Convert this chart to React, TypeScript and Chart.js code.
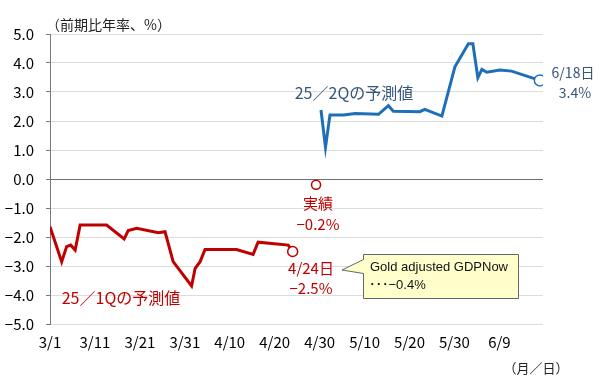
import { useEffect, useRef } from 'react';
import { Chart, registerables } from 'chart.js';

Chart.register(...registerables);

// x positions are day offsets from 3/1
const tickDays = [0, 10, 20, 30, 40, 50, 60, 70, 80, 90, 100];
const tickLabels = ['3/1', '3/11', '3/21', '3/31', '4/10', '4/20', '4/30', '5/10', '5/20', '5/30', '6/9'];

const q1Days = [0, 2.6, 3.7, 4.6, 5.6, 6.7, 12.6, 16.5, 17.4, 19.3, 24.1, 25.6, 27.4, 31.5, 32.3, 33.4, 34.5, 41.5, 45.2, 46.3, 53.0, 54];
const q1Values = [-1.65, -2.85, -2.33, -2.28, -2.45, -1.59, -1.59, -2.07, -1.78, -1.70, -1.85, -1.82, -2.85, -3.69, -3.08, -2.85, -2.43, -2.43, -2.60, -2.18, -2.28, -2.5];

const q2Days = [60.3, 61.3, 62.3, 65.3, 67.9, 73.1, 75.3, 76.4, 82.3, 83.4, 87.2, 90.1, 93.1, 94.1, 95.2, 96.1, 97.2, 100.1, 102.7, 109];
const q2Values = [2.38, 1.09, 2.21, 2.21, 2.26, 2.23, 2.53, 2.34, 2.32, 2.40, 2.17, 3.87, 4.66, 4.66, 3.49, 3.78, 3.68, 3.76, 3.72, 3.4];

const actualDays = [59.2];
const actualValues = [-0.2];

const RED = '#C00000';
const BLUE = '#1F6FB8';
const BLUE_TEXT = '#35557A';
const JP = '"Noto Sans CJK JP", "Liberation Sans", sans-serif';
const MINUS = '\u2212';

const lastIdx = (a: number[]) => a.length - 1;

const annotPlugin = {
  id: 'annot',
  afterDraw(chart: any) {
    const { ctx } = chart;
    ctx.save();
    const text = (t: string, px: number, py: number, color: string, size: number, align: CanvasTextAlign = 'center', family = JP) => {
      ctx.font = `normal ${size}px ${family}`;
      ctx.fillStyle = color;
      ctx.textAlign = align;
      ctx.textBaseline = 'middle';
      ctx.fillText(t, px, py);
    };
    text('（前期比年率、%）', 46, 25, '#222', 14, 'left');
    text('（月／日）', 536, 368, '#222', 13);

    text('25／1Qの予測値', 121, 298, RED, 16);
    text('25／2Qの予測値', 354, 93, BLUE_TEXT, 16);

    text('6/18日', 573, 73, BLUE_TEXT, 14);
    text('3.4%', 575, 93, BLUE_TEXT, 14);

    text('実績', 318, 203, RED, 15);
    text(MINUS + '0.2%', 318, 224, RED, 15);
    text('4/24日', 311, 268, RED, 15);
    text(MINUS + '2.5%', 311, 288, RED, 15);

    // callout
    ctx.beginPath();
    ctx.moveTo(363.5, 254.5);
    ctx.lineTo(518.5, 254.5);
    ctx.lineTo(518.5, 298.5);
    ctx.lineTo(363.5, 298.5);
    ctx.lineTo(363.5, 273.5);
    ctx.lineTo(342, 270);
    ctx.lineTo(363.5, 259.5);
    ctx.closePath();
    ctx.fillStyle = '#FFFFCC';
    ctx.fill();
    ctx.strokeStyle = '#666';
    ctx.lineWidth = 1;
    ctx.stroke();
    text('Gold adjusted GDPNow', 370, 267, '#111', 13, 'left', '"Liberation Sans", Arial, sans-serif');
    text('\uFF65\uFF65\uFF65' + MINUS + '0.4%', 369, 285, '#111', 13, 'left', '"Liberation Sans", "Noto Sans CJK JP", sans-serif');
    ctx.restore();
  },
};

export default function App() {
  const ref = useRef<HTMLCanvasElement | null>(null);
  useEffect(() => {
    if (!ref.current) return;
    const toPts = (xs: number[], ys: number[]) => xs.map((d, i) => ({ x: d, y: ys[i] }));
    const chart = new Chart(ref.current, {
      type: 'line',
      data: {
        datasets: [
          {
            label: '25/1Q',
            data: toPts(q1Days, q1Values),
            borderColor: RED,
            borderWidth: 3,
            pointRadius: q1Days.map((_, i) => (i === lastIdx(q1Days) ? 5 : 0)),
            pointBackgroundColor: '#fff',
            pointBorderColor: RED,
            pointBorderWidth: 1.5,
            tension: 0,
          },
          {
            label: '25/2Q',
            data: toPts(q2Days, q2Values),
            borderColor: BLUE,
            borderWidth: 3,
            pointRadius: q2Days.map((_, i) => (i === lastIdx(q2Days) ? 5.5 : 0)),
            pointBackgroundColor: '#fff',
            pointBorderColor: BLUE,
            pointBorderWidth: 1.5,
            tension: 0,
          },
          {
            label: 'actual',
            data: toPts(actualDays, actualValues),
            showLine: false,
            borderColor: RED,
            pointRadius: 4.5,
            pointBackgroundColor: '#fff',
            pointBorderColor: RED,
            pointBorderWidth: 1.5,
          },
        ],
      },
      options: {
        responsive: false,
        animation: false,
        layout: { padding: { top: 34, right: 57, left: 0, bottom: 0 } },
        plugins: { legend: { display: false }, tooltip: { enabled: false } },
        scales: {
          x: {
            type: 'linear',
            min: 0,
            max: 109.7,
            afterBuildTicks: (s: any) => {
              s.ticks = tickDays.map((v) => ({ value: v }));
            },
            afterFit: (s: any) => {
              s.height = 62;
            },
            grid: { display: false },
            border: { display: false },
            ticks: {
              autoSkip: false,
              maxRotation: 0,
              padding: 1,
              color: '#000',
              font: { family: JP, size: 15 },
              callback: (v: any) => {
                const i = tickDays.indexOf(Number(v));
                return i >= 0 ? tickLabels[i] : '';
              },
            },
          },
          y: {
            min: -5,
            max: 5,
            afterFit: (s: any) => {
              s.width = 50;
            },
            border: { display: true, color: '#7a7a7a', width: 1 },
            grid: {
              color: (c: any) => (c.tick && c.tick.value === 0 ? '#707070' : '#dcdcdc'),
              tickColor: '#7a7a7a',
              tickLength: 4,
            },
            ticks: {
              stepSize: 1,
              padding: 12,
              color: '#000',
              font: { family: JP, size: 15 },
              callback: (v: any) => {
                const n = Number(v);
                return (n < 0 ? MINUS : '') + Math.abs(n).toFixed(1);
              },
            },
          },
        },
      },
      plugins: [annotPlugin],
    });
    return () => chart.destroy();
  }, []);
  return (
    <div style={{ position: 'fixed', left: 0, top: 0, width: 600, height: 386, background: '#fff' }}>
      <canvas ref={ref} width={600} height={386} />
    </div>
  );
}
